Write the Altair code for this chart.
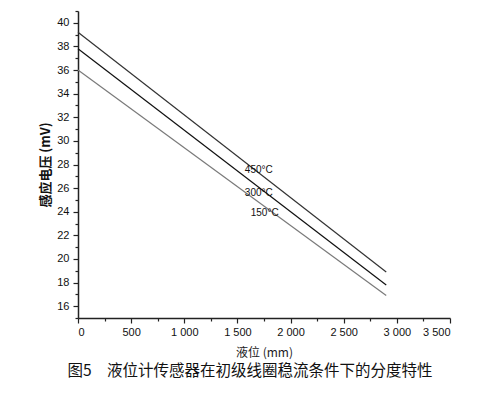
import altair as alt
import pandas as pd

levels = [0, 2900]
v450 = [39.2, 18.9]
v300 = [37.8, 17.8]
v150 = [36.0, 16.9]
series = ["450°C", "300°C", "150°C"]
colors = ["#333333", "#111111", "#7a7a7a"]
label_x = [1570, 1570, 1625]
label_y = [27.5, 25.6, 23.9]
x_ticks = list(range(0, 3501, 250))
y_ticks = list(range(15, 42))
caption = "图5　液位计传感器在初级线圈稳流条件下的分度特性"

rows = []
for name, vals in zip(series, [v450, v300, v150]):
    for x, y in zip(levels, vals):
        rows.append({"level": x, "v": y, "s": name})
df = pd.DataFrame(rows)
lab = pd.DataFrame({"level": label_x, "v": label_y, "s": series})

xscale = alt.Scale(domain=[0, 3500], nice=False, zero=False)
yscale = alt.Scale(domain=[15, 41], nice=False, zero=False)

xaxis = alt.Axis(
    values=x_ticks, tickCount=100, title="液位 (mm)", grid=False, labelOverlap=False,
    labelExpr="datum.value % 500 === 0 ? replace(format(datum.value, ','), ',', ' ') : ''",
    tickSize={"condition": {"test": "datum.value % 500 === 0", "value": 5}, "value": 3},
    labelFont="Liberation Sans", labelFontSize=11, labelColor="#111", labelPadding=3,
    titleFont="Noto Sans CJK SC", titleFontSize=12, titleFontWeight="normal", titleColor="#222",
    titlePadding=10, domainColor="#222", domainWidth=1.5, tickColor="#222", tickWidth=1.2,
)
yaxis = alt.Axis(
    values=y_ticks, tickCount=100, title="感应电压 (mV)", grid=False, labelOverlap=False,
    labelExpr="datum.value % 2 === 0 ? '' + datum.value : ''",
    tickSize={"condition": {"test": "datum.value % 2 === 0", "value": 5}, "value": 3},
    labelFont="Liberation Sans", labelFontSize=11, labelColor="#111", labelPadding=4,
    titleFont="Noto Sans CJK SC", titleFontSize=13, titleFontWeight="bold", titleColor="#111",
    titlePadding=4, domainColor="#222", domainWidth=1.5, tickColor="#222", tickWidth=1.2,
)

lines = alt.Chart(df).mark_line(strokeWidth=1.2).encode(
    x=alt.X("level:Q", scale=xscale, axis=xaxis),
    y=alt.Y("v:Q", scale=yscale, axis=yaxis),
    color=alt.Color("s:N", scale=alt.Scale(domain=series, range=colors), legend=None),
)
texts = alt.Chart(lab).mark_text(align="left", baseline="middle", font="Liberation Sans",
                                 fontSize=10, color="#111").encode(
    x=alt.X("level:Q"),
    y=alt.Y("v:Q"),
    text="s:N",
)

chart = (lines + texts).properties(
    width=372, height=307,
    autosize=alt.AutoSizeParams(type="none"),
    padding={"left": 70, "top": 3, "right": 13, "bottom": 68},
    title=alt.TitleParams(caption, orient="bottom", anchor="middle", font="Noto Sans CJK SC",
                          fontSize=15.5, fontWeight="normal", color="#111", offset=6, dx=-14),
).configure_view(stroke=None)

chart.save("out.html", embed_options={"renderer": "svg", "actions": False})
